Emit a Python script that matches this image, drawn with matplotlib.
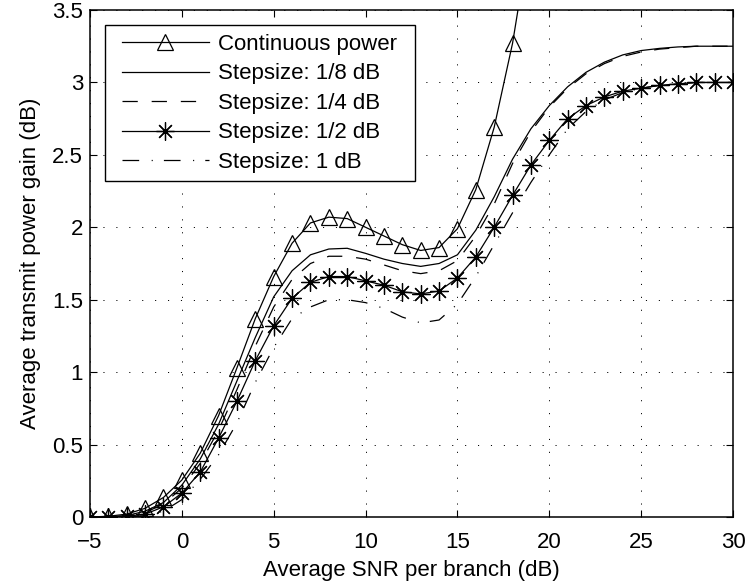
import matplotlib
matplotlib.use("Agg")
import matplotlib.pyplot as plt
from matplotlib.patches import Rectangle
from matplotlib.transforms import Bbox

plt.rcParams['font.family'] = ['Liberation Sans', 'DejaVu Sans']
plt.rcParams['lines.scale_dashes'] = False

# ---- data ----
snr = list(range(-5, 31))
snr_cont = list(range(-5, 20))
cont_power = [0.0, 0.005, 0.02, 0.06, 0.135, 0.255, 0.44, 0.70, 1.03, 1.37,
              1.66, 1.89, 2.03, 2.07, 2.06, 2.00, 1.94, 1.88, 1.84, 1.86,
              1.99, 2.26, 2.69, 3.27, 4.05]
step_1_8 = [0.0, 0.0, 0.01, 0.04, 0.10, 0.22, 0.40, 0.64, 0.94, 1.24,
            1.52, 1.70, 1.81, 1.85, 1.855, 1.82, 1.78, 1.75, 1.73, 1.75,
            1.81, 1.98, 2.21, 2.47, 2.68, 2.84, 2.97, 3.07, 3.14, 3.19,
            3.22, 3.235, 3.245, 3.25, 3.25, 3.25]
step_1_4 = [0.0, 0.0, 0.005, 0.03, 0.09, 0.20, 0.37, 0.60, 0.88, 1.18,
            1.45, 1.64, 1.75, 1.80, 1.80, 1.78, 1.74, 1.70, 1.68, 1.70,
            1.77, 1.94, 2.16, 2.44, 2.66, 2.83, 2.96, 3.06, 3.13, 3.18,
            3.21, 3.23, 3.24, 3.25, 3.25, 3.25]
step_1_2 = [0.0, 0.0, 0.005, 0.02, 0.07, 0.165, 0.31, 0.545, 0.80, 1.08,
            1.32, 1.51, 1.62, 1.66, 1.66, 1.63, 1.60, 1.555, 1.54, 1.56,
            1.65, 1.795, 2.00, 2.22, 2.43, 2.60, 2.75, 2.84, 2.90, 2.94,
            2.96, 2.98, 2.99, 3.0, 3.0, 3.0]
step_1 = [0.0, 0.0, 0.0, 0.01, 0.04, 0.12, 0.26, 0.43, 0.65, 0.93,
          1.17, 1.37, 1.45, 1.50, 1.50, 1.48, 1.44, 1.38, 1.34, 1.36,
          1.47, 1.66, 1.88, 2.10, 2.31, 2.50, 2.68, 2.80, 2.88, 2.93,
          2.96, 2.98, 2.99, 3.0, 3.0, 3.0]
labels = ['Continuous power', 'Stepsize: 1/8 dB', 'Stepsize: 1/4 dB',
          'Stepsize: 1/2 dB', 'Stepsize: 1 dB']
xticks = [-5, 0, 5, 10, 15, 20, 25, 30]
yticks = [0, 0.5, 1, 1.5, 2, 2.5, 3, 3.5]
ytick_labels = ['0', '0.5', '1', '1.5', '2', '2.5', '3', '3.5']

FS = 16
fig = plt.figure(figsize=(7.47, 5.87), dpi=100)
ax = fig.add_axes([90/747, 70/587, 643/747, 507/587])

lw = 0.9
ax.plot(snr_cont, cont_power, color='k', lw=lw, marker='^', ms=12,
        mfc='none', mec='k', mew=0.9, label=labels[0])
ax.plot(snr, step_1_8, color='k', lw=lw, ls='-', label=labels[1])
ax.plot(snr, step_1_4, color='k', lw=lw, ls=(0, (11, 10)), label=labels[2])
ax.plot(snr, step_1_2, color='k', lw=lw, marker=(8, 2, 0), ms=13,
        mew=0.9, label=labels[3])
ax.plot(snr, step_1, color='k', lw=lw, ls=(0, (12, 9, 0.8, 8)), label=labels[4])

ax.set_xlim(-5, 30)
ax.set_ylim(0, 3.5)
ax.set_xticks(xticks)
ax.set_yticks(yticks)
ax.set_xticklabels([str(t).replace('-', '\u2212') for t in xticks])
ax.set_yticklabels(ytick_labels)
ax.tick_params(direction='in', length=5, width=0.8, top=True, right=True,
               labelsize=FS, colors='k')
ax.tick_params(axis='x', pad=11)
ax.tick_params(axis='y', pad=5)
ax.grid(True, color='k', lw=0.7, ls=(0, (0.8, 8.5)))
for s in ax.spines.values():
    s.set_linewidth(1.1)
ax.set_xlabel('Average SNR per branch (dB)', fontsize=FS, labelpad=5)
ax.set_ylabel('Average transmit power gain (dB)', fontsize=FS, labelpad=8)

leg = ax.legend(loc='upper left', bbox_to_anchor=((122-90)/643, 1-(34-10)/507),
                frameon=False, fontsize=FS, borderpad=0, borderaxespad=0,
                handlelength=3.9, handletextpad=0.4, labelspacing=0.38)
leg.set_zorder(6)

fig.canvas.draw()
bb = leg.get_window_extent()
bb = Bbox.from_extents(bb.x0 - 17, bb.y0 - 8, bb.x1 + 18, bb.y1 + 9)
bb_ax = bb.transformed(ax.transAxes.inverted())
rect = Rectangle((bb_ax.x0, bb_ax.y0), bb_ax.width, bb_ax.height,
                 transform=ax.transAxes, facecolor='white', edgecolor='k',
                 lw=1.0, zorder=5, clip_on=False)
ax.add_patch(rect)

fig.savefig('out.png', dpi=100)
